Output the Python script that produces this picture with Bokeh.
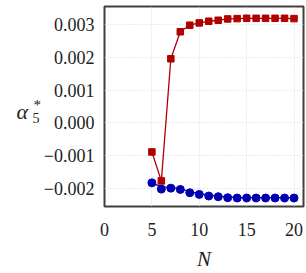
from bokeh.plotting import figure
from bokeh.models import Range1d, FixedTicker, Label
from bokeh.embed import file_html
from bokeh.resources import INLINE

N = [5, 6, 7, 8, 9, 10, 11, 12, 13, 14, 15, 16, 17, 18, 19, 20]
red_vals = [-0.00088, -0.00176, 0.00195, 0.00277, 0.00297, 0.00304, 0.00309, 0.00312,
            0.00316, 0.00317, 0.00318, 0.00318, 0.00318, 0.00318, 0.00318, 0.00317]
blue_vals = [-0.00182, -0.00201, -0.00198, -0.00202, -0.00212, -0.00217, -0.00222, -0.00224,
             -0.00227, -0.00228, -0.00228, -0.00228, -0.00228, -0.00228, -0.00228, -0.00228]
blue_line = [-0.00182, -0.00194, -0.00195, -0.00200, -0.00209, -0.00215, -0.00219, -0.00222,
             -0.00225, -0.00226, -0.00227, -0.00227, -0.00227, -0.00227, -0.00227, -0.00227]
x_ticks = [0, 5, 10, 15, 20]
y_ticks = [-0.002, -0.001, 0.0, 0.001, 0.002, 0.003]
y_tick_labels = ["\u22120.002", "\u22120.001", "0.000", "0.001", "0.002", "0.003"]

RED = "#b00000"
BLUE = "#0000b0"
FONT = "Liberation Serif"

XMIN, XMAX = 0, 21
YMIN, YMAX = -0.002538, 0.003538

p = figure(width=306, height=273, output_backend="svg", toolbar_location=None,
           x_range=Range1d(XMIN, XMAX), y_range=Range1d(YMIN, YMAX),
           min_border_left=104, min_border_right=3, min_border_top=6, min_border_bottom=67)

p.outline_line_color = "#404040"
p.outline_line_width = 2

for ax in (p.xaxis[0], p.yaxis[0]):
    ax.axis_line_color = None
    ax.major_tick_line_color = None
    ax.minor_tick_line_color = None
    ax.major_label_text_font = FONT
    ax.major_label_text_font_size = "18px"
    ax.major_label_text_color = "#222222"

p.xaxis.ticker = FixedTicker(ticks=x_ticks)
p.yaxis.ticker = FixedTicker(ticks=y_ticks)
p.yaxis.major_label_overrides = {t: l for t, l in zip(y_ticks, y_tick_labels)}
p.xaxis.major_label_standoff = 10
p.yaxis.major_label_standoff = 4

p.xaxis.axis_label = "N"
p.xaxis.axis_label_text_font = FONT
p.xaxis.axis_label_text_font_size = "21px"
p.xaxis.axis_label_text_font_style = "italic"
p.xaxis.axis_label_text_color = "#222222"
p.xaxis.axis_label_standoff = 8

for g in (p.xgrid[0], p.ygrid[0]):
    g.grid_line_color = "#d8d8d8"
    g.grid_line_dash = "1 2"
    g.grid_line_width = 1

p.line(N, red_vals, line_color=RED, line_width=1.3)
p.scatter(N, red_vals, marker="square", size=6.5, fill_color=RED, line_color=RED)
p.line(N, blue_line, line_color=BLUE, line_width=1.3)
p.scatter(N, blue_vals, marker="circle", size=8, fill_color=BLUE, line_color=BLUE)

# y-axis label alpha_5^* built from text pieces in the left panel (canvas px, y down)
def lab(text, px, py, size, italic=False):
    p.add_layout(Label(x=px, y=py, x_units="canvas", y_units="canvas",
                       text=text, text_font=FONT, text_font_size=size,
                       text_font_style="italic" if italic else "normal",
                       text_baseline="alphabetic", text_align="left", text_color="#222222"),
                 "left")

lab("\u03b1", 16, 111, "22px", italic=True)
lab("*", 33, 104, "15px")
lab("5", 32, 117, "14px")

open("out.html", "w").write(file_html(p, INLINE))
